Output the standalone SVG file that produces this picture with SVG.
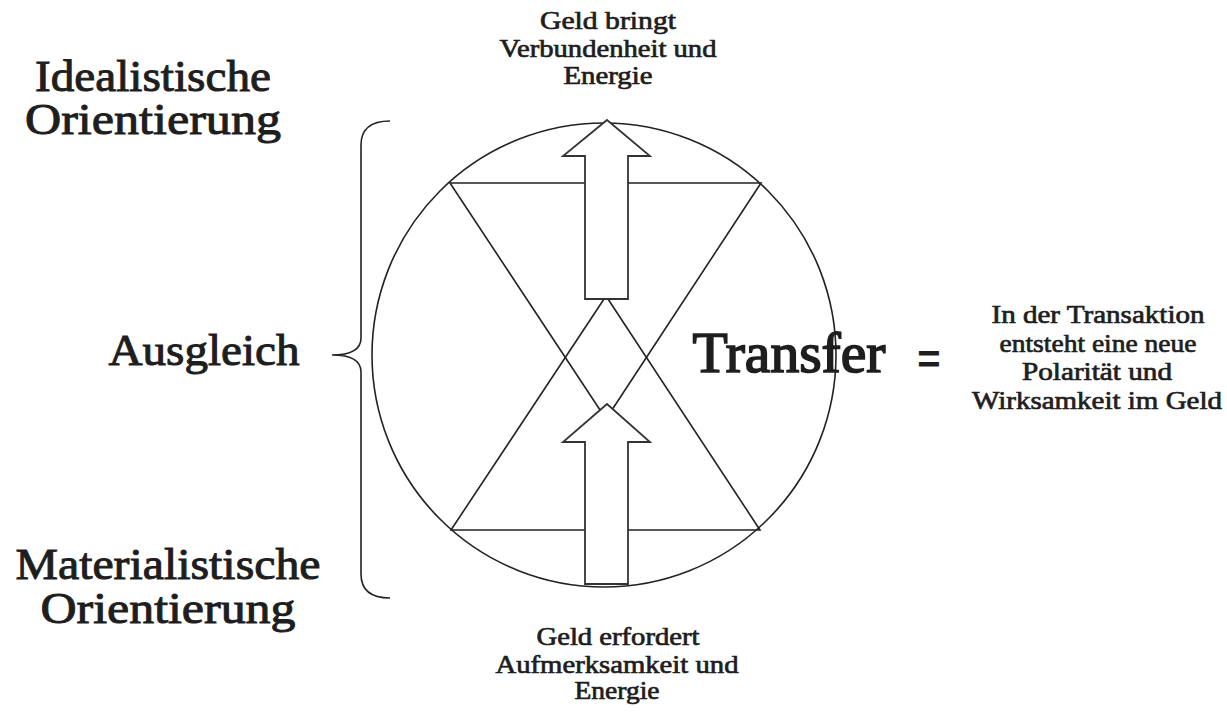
<svg xmlns="http://www.w3.org/2000/svg" width="1227" height="713" viewBox="0 0 1227 713">
  <style>
    .ln { fill: none; stroke: #222; stroke-width: 1.6; }
    .arrow { fill: #fff; stroke: #333; stroke-width: 1.8; stroke-linejoin: miter; }
    .t { font-family: "Liberation Serif", "Times New Roman", serif; fill: #1e1e1e; stroke: #1e1e1e; text-anchor: middle; }
    .big { font-size: 45px; stroke-width: 1.0; }
    .huge { font-size: 58px; stroke-width: 1.7; }
    .small { font-size: 25px; stroke-width: 0.7; }
    .eq { font-family: "Liberation Sans", Arial, sans-serif; font-size: 40px; font-weight: bold; fill: #1e1e1e; text-anchor: middle; }
  </style>
  <rect width="1227" height="713" fill="#fff"/>

  <g id="brace">
    <path class="ln" d="M 390 121 Q 361 121 361 145 L 361 338 Q 361 355 332 355 Q 361 355 361 372 L 361 574 Q 361 598 390 598"/>
  </g>

  <g id="circle-figure">
    <circle class="ln" cx="604" cy="355" r="232"/>
    <polygon class="ln" points="450,183 761,183 606,419"/>
    <polygon class="ln" points="451,530 760,530 606,296"/>
  </g>

  <g id="connectors">
    <polygon id="arrow-up-top" class="arrow" points="607,120 650,156 628,156 628,299 585,299 585,156 563,156"/>
    <polygon id="arrow-up-bottom" class="arrow" points="607,404 650,442 628,442 628,584 585,584 585,442 563,442"/>
  </g>

  <g id="label-idealistisch">
    <text class="t big" x="153" y="91" textLength="236" lengthAdjust="spacingAndGlyphs">Idealistische</text>
    <text class="t big" x="153" y="134" textLength="256" lengthAdjust="spacingAndGlyphs">Orientierung</text>
  </g>

  <g id="label-ausgleich">
    <text class="t big" x="204" y="365" textLength="191" lengthAdjust="spacingAndGlyphs">Ausgleich</text>
  </g>

  <g id="label-materialistisch">
    <text class="t big" x="168" y="579" textLength="305" lengthAdjust="spacingAndGlyphs">Materialistische</text>
    <text class="t big" x="168" y="623" textLength="255" lengthAdjust="spacingAndGlyphs">Orientierung</text>
  </g>

  <g id="label-top">
    <text class="t small" x="608" y="29" textLength="136" lengthAdjust="spacingAndGlyphs">Geld bringt</text>
    <text class="t small" x="608" y="57" textLength="217" lengthAdjust="spacingAndGlyphs">Verbundenheit und</text>
    <text class="t small" x="608" y="84" textLength="89" lengthAdjust="spacingAndGlyphs">Energie</text>
  </g>

  <g id="label-bottom">
    <text class="t small" x="618" y="645" textLength="163" lengthAdjust="spacingAndGlyphs">Geld erfordert</text>
    <text class="t small" x="617" y="673" textLength="243" lengthAdjust="spacingAndGlyphs">Aufmerksamkeit und</text>
    <text class="t small" x="617" y="699" textLength="85" lengthAdjust="spacingAndGlyphs">Energie</text>
  </g>

  <g id="label-transfer">
    <text class="t huge" x="789" y="372" textLength="193" lengthAdjust="spacingAndGlyphs">Transfer</text>
  </g>

  <g id="equals">
    <text class="eq" x="929" y="373">=</text>
  </g>

  <g id="label-right">
    <text class="t small" x="1098" y="323" textLength="213" lengthAdjust="spacingAndGlyphs">In der Transaktion</text>
    <text class="t small" x="1098" y="352" textLength="197" lengthAdjust="spacingAndGlyphs">entsteht eine neue</text>
    <text class="t small" x="1097" y="380" textLength="150" lengthAdjust="spacingAndGlyphs">Polarität und</text>
    <text class="t small" x="1097" y="409" textLength="250" lengthAdjust="spacingAndGlyphs">Wirksamkeit im Geld</text>
  </g>
</svg>
